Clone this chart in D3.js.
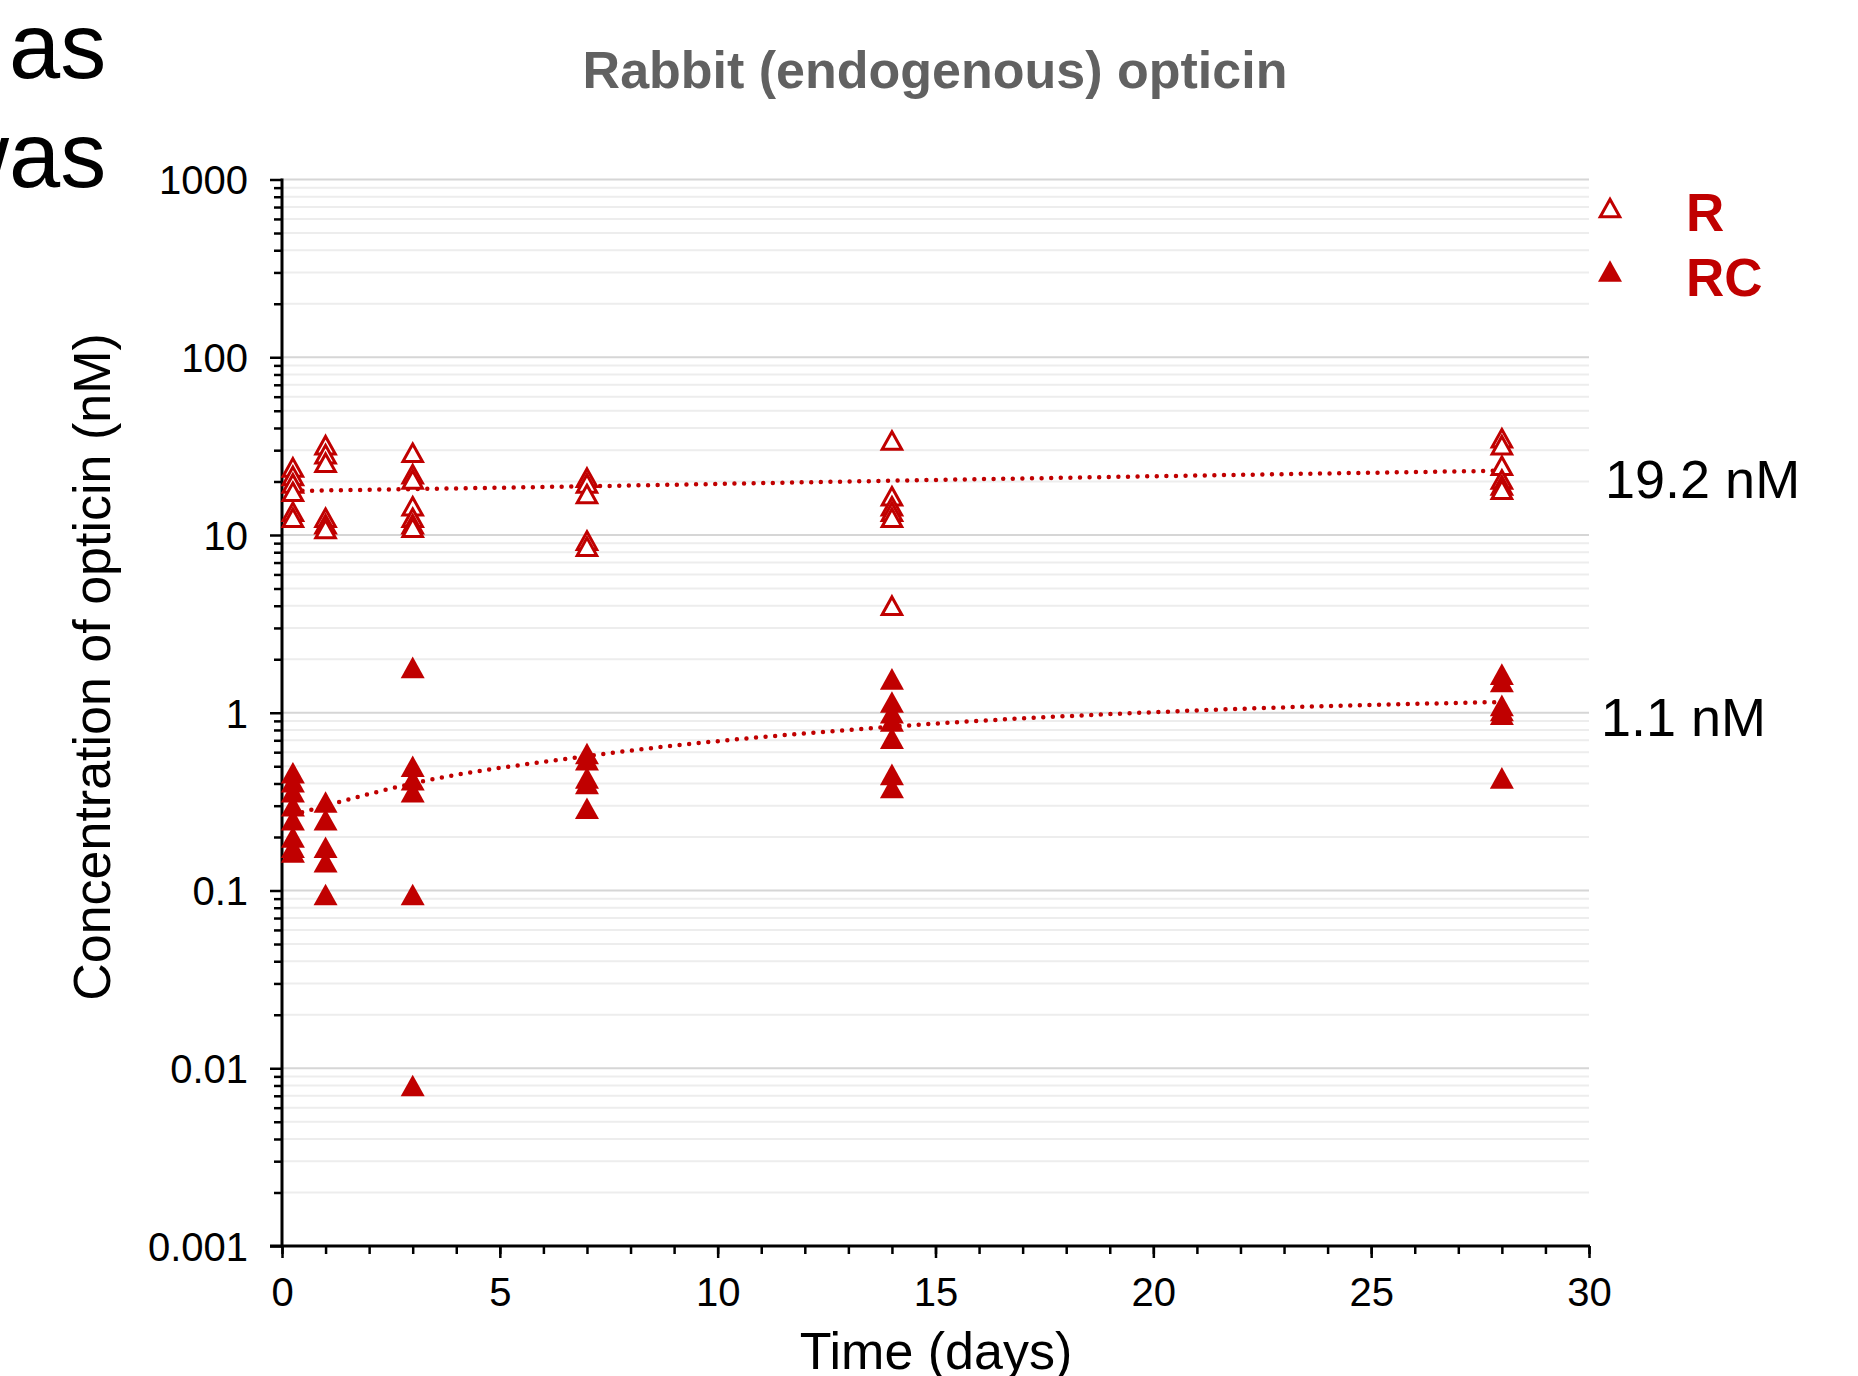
<!DOCTYPE html>
<html>
<head>
<meta charset="utf-8">
<script src="https://cdn.jsdelivr.net/npm/d3@7/dist/d3.min.js"></script>
<style>
  html, body { margin: 0; padding: 0; background: #ffffff; }
  svg { display: block; font-family: "Liberation Sans", Arial, Helvetica, sans-serif; }
</style>
</head>
<body>
<svg id="chart" width="1858" height="1376"></svg>
<script>
// ---------------- DATA ----------------
const chartTitle = "Rabbit (endogenous) opticin";
const xAxisTitle = "Time (days)";
const yAxisTitle = "Concentration of opticin (nM)";
const seriesNames = ["R", "RC"];
const meanLabels = ["19.2 nM", "1.1 nM"];
const backgroundWords = ["as", "was"];

const xTickValues = [0, 5, 10, 15, 20, 25, 30];
const yTickValues = [0.001, 0.01, 0.1, 1, 10, 100, 1000];
const yTickLabels = ["0.001", "0.01", "0.1", "1", "10", "100", "1000"];

const sampleDays = [0.25, 1, 3, 7, 14, 28];

// R (open triangles), concentrations (nM) per sampling day
const rDay025 = [24, 21.5, 19.5, 17.5, 13.5, 12.5];
const rDay1   = [32, 28.5, 25.5, 12.5, 11.5, 10.8];
const rDay3   = [29, 22, 20.5, 14.5, 12.5, 11.5, 11];
const rDay7   = [21, 19.5, 17, 9.3, 8.6];
const rDay14  = [34, 16.5, 14.5, 13.5, 12.5, 4];
const rDay28  = [35, 32, 24.5, 20.5, 19, 18];

// RC (filled triangles), concentrations (nM) per sampling day
const rcDay025 = [0.46, 0.41, 0.36, 0.30, 0.25, 0.20, 0.175, 0.165];
const rcDay1   = [0.315, 0.25, 0.175, 0.145, 0.095];
const rcDay3   = [1.8, 0.5, 0.42, 0.36, 0.095, 0.008];
const rcDay7   = [0.59, 0.545, 0.43, 0.40, 0.29];
const rcDay14  = [1.55, 1.15, 1.0, 0.9, 0.72, 0.45, 0.38];
const rcDay28  = [1.65, 1.5, 1.1, 1.03, 0.98, 0.43];

// Trend lines
const rTrendDays  = [0.25, 7, 14, 21, 28];
const rTrendConc  = [17.7, 18.8, 20.2, 21.6, 23.0];
const rcTrendDays = [0.25, 1, 3, 7, 14, 21, 28];
const rcTrendConc = [0.266, 0.30, 0.40, 0.57, 0.835, 1.03, 1.15];

// ---------------- LAYOUT ----------------
const RED = "#c00000";
const svg = d3.select("#chart");
const plotLeft = 282, plotRight = 1589, plotTop = 179.5, plotBottom = 1246;

const x = d3.scaleLinear().domain([0, 30]).range([plotLeft, plotRight]);
const y = d3.scaleLog().domain([0.001, 1000]).range([plotBottom, plotTop]);

// background slide words (partially clipped, as in the source slide)
svg.append("text").attr("x", 9).attr("y", 78)
  .attr("font-size", 92).attr("fill", "#000").text(backgroundWords[0]);
svg.append("text").attr("x", 9).attr("y", 187)
  .attr("font-size", 92).attr("fill", "#000").attr("text-anchor", "end")
  .text(backgroundWords[1].slice(0, 1));
svg.append("text").attr("x", 9).attr("y", 187)
  .attr("font-size", 92).attr("fill", "#000").text(backgroundWords[1].slice(1));

// gridlines
const minorVals = [];
for (let e = -3; e < 3; e++) {
  for (let m = 2; m <= 9; m++) minorVals.push(m * Math.pow(10, e));
}
svg.append("g").selectAll("line").data(minorVals).join("line")
  .attr("x1", plotLeft).attr("x2", plotRight)
  .attr("y1", d => y(d)).attr("y2", d => y(d))
  .attr("stroke", "#ededed").attr("stroke-width", 2);
svg.append("g").selectAll("line").data(yTickValues.filter(v => v > 0.001)).join("line")
  .attr("x1", plotLeft).attr("x2", plotRight)
  .attr("y1", d => y(d)).attr("y2", d => y(d))
  .attr("stroke", "#d6d6d6").attr("stroke-width", 2);

// Y axis
const yAxisMajor = d3.axisLeft(y).tickValues(yTickValues).tickSize(12)
  .tickFormat((d, i) => yTickLabels[i]).tickPadding(22);
const gy = svg.append("g").attr("transform", `translate(${plotLeft},0)`).call(yAxisMajor);
gy.select(".domain").remove();
gy.selectAll(".tick line").attr("stroke", "#000").attr("stroke-width", 2.5);
gy.selectAll(".tick text").attr("font-size", 40).attr("fill", "#000")
  .attr("font-family", '"Liberation Sans", Arial, sans-serif').attr("dy", "0.36em");
const gyMinor = svg.append("g").attr("transform", `translate(${plotLeft},0)`)
  .call(d3.axisLeft(y).tickValues(minorVals).tickSize(8).tickFormat(""));
gyMinor.select(".domain").remove();
gyMinor.selectAll(".tick line").attr("stroke", "#000").attr("stroke-width", 2.5);

// X axis
const gxMinor = svg.append("g").attr("transform", `translate(0,${plotBottom})`)
  .call(d3.axisBottom(x).tickValues(d3.range(0, 31, 1)).tickSize(8).tickFormat(""));
gxMinor.select(".domain").remove();
gxMinor.selectAll(".tick line").attr("stroke", "#000").attr("stroke-width", 2.5);
const gx = svg.append("g").attr("transform", `translate(0,${plotBottom})`)
  .call(d3.axisBottom(x).tickValues(xTickValues).tickSize(12).tickPadding(20));
gx.select(".domain").remove();
gx.selectAll(".tick line").attr("stroke", "#000").attr("stroke-width", 2.5);
gx.selectAll(".tick text").attr("font-size", 40).attr("fill", "#000")
  .attr("font-family", '"Liberation Sans", Arial, sans-serif').attr("dy", "0.71em");

// axis lines
svg.append("line").attr("x1", plotLeft).attr("x2", plotLeft).attr("y1", plotTop - 1).attr("y2", plotBottom + 1.5)
  .attr("stroke", "#000").attr("stroke-width", 3);
svg.append("line").attr("x1", plotLeft - 12).attr("x2", plotRight + 1).attr("y1", plotBottom).attr("y2", plotBottom)
  .attr("stroke", "#000").attr("stroke-width", 3);

// titles
svg.append("text").attr("x", 935).attr("y", 88).attr("text-anchor", "middle")
  .attr("font-size", 52).attr("font-weight", "bold").attr("fill", "#616161").text(chartTitle);
svg.append("text").attr("transform", "translate(109.5,667) rotate(-90)")
  .attr("text-anchor", "middle").attr("font-size", 52).attr("fill", "#000").text(yAxisTitle);
svg.append("text").attr("x", 936).attr("y", 1369).attr("text-anchor", "middle")
  .attr("font-size", 52).attr("fill", "#000").text(xAxisTitle);

// trend lines
const trendLine = d3.line().x(d => x(d[0])).y(d => y(d[1])).curve(d3.curveMonotoneX);
const rTrend = rTrendDays.map((d, i) => [d, rTrendConc[i]]);
const rcTrend = rcTrendDays.map((d, i) => [d, rcTrendConc[i]]);
[rTrend, rcTrend].forEach(pts => {
  svg.append("path").attr("d", trendLine(pts)).attr("fill", "none")
    .attr("stroke", RED).attr("stroke-width", 4.5)
    .attr("stroke-linecap", "round").attr("stroke-dasharray", "0 9.6");
});

// triangle symbol centred on its bounding box
const tri = {
  draw(ctx, size) {
    const w = Math.sqrt(size), h = w * 0.9;
    ctx.moveTo(0, -h / 2);
    ctx.lineTo(w / 2, h / 2);
    ctx.lineTo(-w / 2, h / 2);
    ctx.closePath();
  }
};
const openSym = d3.symbol().type(tri).size(19.5 * 19.5);
const fillSym = d3.symbol().type(tri).size(24 * 24);

const rSets = [rDay025, rDay1, rDay3, rDay7, rDay14, rDay28];
const rcSets = [rcDay025, rcDay1, rcDay3, rcDay7, rcDay14, rcDay28];
const rPts = [], rcPts = [];
sampleDays.forEach((d, i) => {
  rSets[i].forEach(v => rPts.push([d, v]));
  rcSets[i].forEach(v => rcPts.push([d, v]));
});

svg.append("g").selectAll("path").data(rcPts).join("path")
  .attr("transform", d => `translate(${x(d[0])},${y(d[1])})`)
  .attr("d", fillSym).attr("fill", RED);
svg.append("g").selectAll("path").data(rPts).join("path")
  .attr("transform", d => `translate(${x(d[0])},${y(d[1])})`)
  .attr("d", openSym).attr("fill", "#fff").attr("stroke", RED).attr("stroke-width", 3);

// legend
svg.append("path").attr("transform", "translate(1610,208)").attr("d", openSym)
  .attr("fill", "#fff").attr("stroke", RED).attr("stroke-width", 3);
svg.append("path").attr("transform", "translate(1610,271)").attr("d", fillSym).attr("fill", RED);
svg.append("text").attr("x", 1686).attr("y", 231).attr("font-size", 53).attr("font-weight", "bold")
  .attr("fill", RED).text(seriesNames[0]);
svg.append("text").attr("x", 1686).attr("y", 296).attr("font-size", 53).attr("font-weight", "bold")
  .attr("fill", RED).text(seriesNames[1]);

// mean labels
svg.append("text").attr("x", 1605).attr("y", 498).attr("font-size", 54).attr("fill", "#000").text(meanLabels[0]);
svg.append("text").attr("x", 1601).attr("y", 736).attr("font-size", 54).attr("fill", "#000").text(meanLabels[1]);
</script>
</body>
</html>
